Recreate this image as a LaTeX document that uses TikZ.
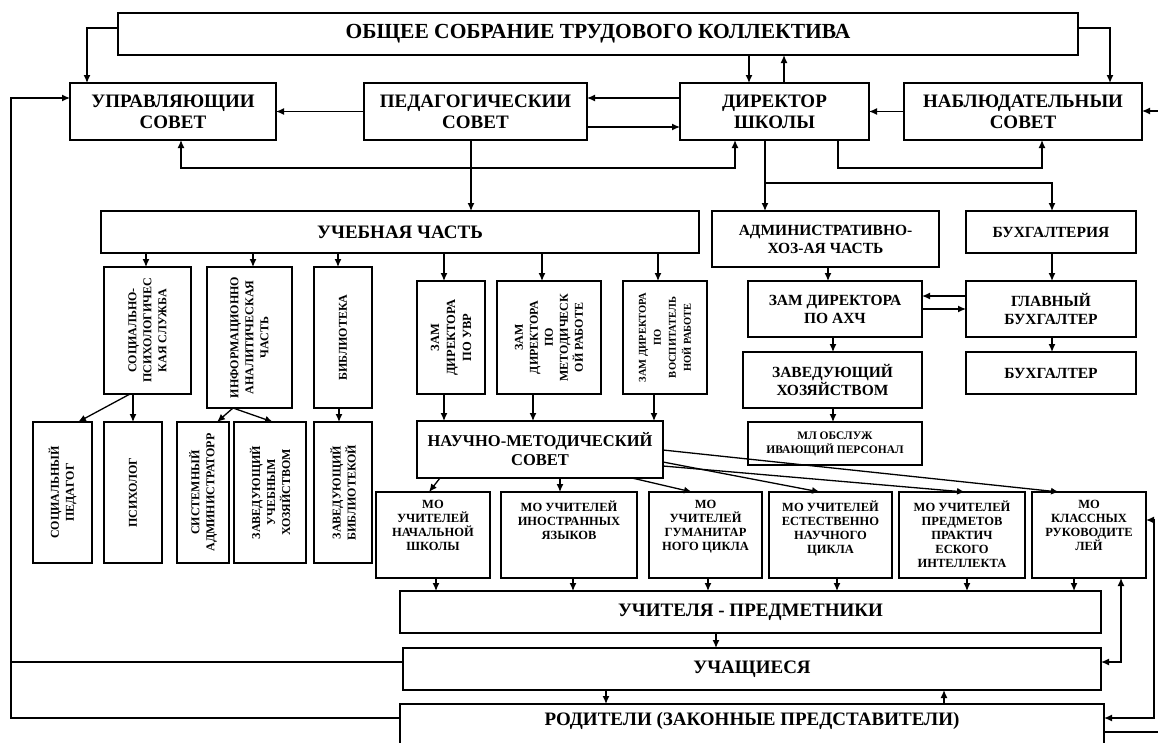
\documentclass[tikz,border=0pt]{standalone}
\usepackage{fontspec}
\setmainfont{Liberation Serif}
\usetikzlibrary{arrows.meta}

\begin{document}
\begin{tikzpicture}[x=1pt,y=-1pt,>={Latex[length=8pt,width=7pt]},line width=1.3pt,
        box/.style={draw,line width=1.5pt,anchor=north west,inner sep=1pt,
            outer sep=0pt,align=center,font=\bfseries\fontsize{19}{21}\selectfont},
        ttl/.style={font=\bfseries\fontsize{21.5}{23}\selectfont},
        mid/.style={font=\bfseries\fontsize{15.5}{18}\selectfont},
        motext/.style={anchor=north,align=center,inner sep=0pt,
            font=\bfseries\fontsize{12.5}{14}\selectfont},
        vtext/.style={rotate=90,align=center,inner sep=0pt,
            font=\bfseries\fontsize{12}{15}\selectfont}]

\useasboundingbox[fill=white] (0,0) rectangle (1158,742);

% top row
\node[box,ttl,minimum width=960,minimum height=42] (obs) at (118,13) {ОБЩЕЕ СОБРАНИЕ ТРУДОВОГО КОЛЛЕКТИВА};
\node[box,minimum width=206,minimum height=57] (upr) at (70,83) {УПРАВЛЯЮЩИИ\\СОВЕТ};
\node[box,minimum width=223,minimum height=57] (ped) at (364,83) {ПЕДАГОГИЧЕСКИИ\\СОВЕТ};
\node[box,minimum width=189,minimum height=57] (dir) at (680,83) {ДИРЕКТОР\\ШКОЛЫ};
\node[box,minimum width=238,minimum height=57] (nab) at (904,83) {НАБЛЮДАТЕЛЬНЫИ\\СОВЕТ};

% second level
\node[box,minimum width=598,minimum height=42] (ucheb) at (101,211) {УЧЕБНАЯ ЧАСТЬ};
\node[box,mid,minimum width=227,minimum height=56] (adm) at (712,211) {АДМИНИСТРАТИВНО-\\ХОЗ-АЯ ЧАСТЬ};
\node[box,mid,minimum width=170,minimum height=42] (buh) at (966,211) {БУХГАЛТЕРИЯ};

% vertical boxes
\node[box,minimum width=87,minimum height=127] (soc) at (104,267) {};
\node[box,minimum width=85,minimum height=141] (inf) at (207,267) {};
\node[box,minimum width=58,minimum height=141] (bibl) at (314,267) {};
\node[box,minimum width=68,minimum height=113] (zuvr) at (417,281) {};
\node[box,minimum width=104,minimum height=113] (zmet) at (497,281) {};
\node[box,minimum width=84,minimum height=113] (zvos) at (623,281) {};
\node[box,minimum width=59,minimum height=141] (socped) at (33,422) {};
\node[box,minimum width=58,minimum height=141] (psih) at (104,422) {};
\node[box,minimum width=52,minimum height=141] (sysad) at (177,422) {};
\node[box,minimum width=72,minimum height=141] (zavuch) at (234,422) {};
\node[box,minimum width=58,minimum height=141] (zavbib) at (314,422) {};

\node[vtext] (soc-t) at (soc.center) {СОЦИАЛЬНО-\\ПСИХОЛОГИЧЕС\\КАЯ СЛУЖБА};
\node[vtext] (inf-t) at (inf.center) {ИНФОРМАЦИОННО\\АНАЛИТИЧЕСКАЯ\\ЧАСТЬ};
\node[vtext] (bibl-t) at (bibl.center) {БИБЛИОТЕКА};
\node[vtext,font=\bfseries\fontsize{12.5}{16}\selectfont] (zuvr-t) at (zuvr.center) {ЗАМ\\ДИРЕКТОРА\\ПО УВР};
\node[vtext] (zmet-t) at (zmet.center) {ЗАМ\\ДИРЕКТОРА\\ПО\\МЕТОДИЧЕСК\\ОЙ РАБОТЕ};
\node[vtext,font=\bfseries\fontsize{10.5}{15}\selectfont] (zvos-t) at (zvos.center) {ЗАМ ДИРЕКТОРА\\ПО\\ВОСПИТАТЕЛЬ\\НОЙ РАБОТЕ};
\node[vtext] (socped-t) at (socped.center) {СОЦИАЛЬНЫЙ\\ПЕДАГОГ};
\node[vtext] (psih-t) at (psih.center) {ПСИХОЛОГ};
\node[vtext] (sysad-t) at (sysad.center) {СИСТЕМНЫЙ\\АДМИНИСТРАТОРР};
\node[vtext] (zavuch-t) at (zavuch.center) {ЗАВЕДУЮЩИЙ\\УЧЕБНЫМ\\ХОЗЯЙСТВОМ};
\node[vtext] (zavbib-t) at (zavbib.center) {ЗАВЕДУЮЩИЙ\\БИБЛИОТЕКОЙ};

% administrative side
\node[box,mid,minimum width=174,minimum height=56] (zahch) at (748,281) {ЗАМ ДИРЕКТОРА\\ПО АХЧ};
\node[box,mid,minimum width=170,minimum height=56] (glbuh) at (966,281) {ГЛАВНЫЙ\\БУХГАЛТЕР};
\node[box,mid,minimum width=179,minimum height=56] (zavhoz) at (743,352) {ЗАВЕДУЮЩИЙ\\ХОЗЯЙСТВОМ};
\node[box,mid,minimum width=170,minimum height=42] (buhg) at (966,352) {БУХГАЛТЕР};
\node[box,font=\bfseries\fontsize{11.5}{14}\selectfont,minimum width=174,minimum height=43] (mlop) at (748,422) {МЛ ОБСЛУЖ\\ИВАЮЩИЙ ПЕРСОНАЛ};

% methodical council and MO
\node[box,font=\bfseries\fontsize{16.5}{19}\selectfont,minimum width=246,minimum height=57] (nms) at (417,421) {НАУЧНО-МЕТОДИЧЕСКИЙ\\СОВЕТ};
\node[box,minimum width=114,minimum height=86] (mon) at (376,492) {};
\node[box,minimum width=136,minimum height=86] (moin) at (501,492) {};
\node[box,minimum width=113,minimum height=86] (mogum) at (649,492) {};
\node[box,minimum width=123,minimum height=86] (moest) at (769,492) {};
\node[box,minimum width=126,minimum height=86] (mopr) at (899,492) {};
\node[box,minimum width=114,minimum height=86] (mokl) at (1032,492) {};

\node[motext] (mon-t) at ([yshift=-8pt]mon.north) {МО\\УЧИТЕЛЕЙ\\НАЧАЛЬНОЙ\\ШКОЛЫ};
\node[motext] (moin-t) at ([yshift=-8pt]moin.north) {МО УЧИТЕЛЕЙ\\ИНОСТРАННЫХ\\ЯЗЫКОВ};
\node[motext] (mogum-t) at ([yshift=-8pt]mogum.north) {МО\\УЧИТЕЛЕЙ\\ГУМАНИТАР\\НОГО ЦИКЛА};
\node[motext] (moest-t) at ([yshift=-8pt]moest.north) {МО УЧИТЕЛЕЙ\\ЕСТЕСТВЕННО\\НАУЧНОГО\\ЦИКЛА};
\node[motext] (mopr-t) at ([yshift=-8pt]mopr.north) {МО УЧИТЕЛЕЙ\\ПРЕДМЕТОВ\\ПРАКТИЧ\\ЕСКОГО\\ИНТЕЛЛЕКТА};
\node[motext] (mokl-t) at ([yshift=-8pt]mokl.north) {МО\\КЛАССНЫХ\\РУКОВОДИТЕ\\ЛЕЙ};

% bottom rows
\node[box,minimum width=701,minimum height=42] (uchit) at (400,591) {УЧИТЕЛЯ - ПРЕДМЕТНИКИ};
\node[box,minimum width=698,minimum height=42] (uchash) at (403,648) {УЧАЩИЕСЯ};
\node[box,minimum width=704,minimum height=40,text depth=10pt] (rod) at (400,704) {РОДИТЕЛИ (ЗАКОННЫЕ ПРЕДСТАВИТЕЛИ)};

\coordinate (rin) at (1158,111);
\coordinate (rout) at (1158,732);

% connectors, top
\draw[->] (obs.west |- 0,28) -| (87,0 |- upr.north);
\draw[->] (749,0 |- obs.south) -- (749,0 |- dir.north);
\draw[->] (784,0 |- dir.north) -- (784,0 |- obs.south);
\draw[->] (obs.east |- 0,28) -| (1110,0 |- nab.north);
\draw[->] (ped.west) -- (upr.east);
\draw[->] (dir.west |- 0,98) -- (ped.east |- 0,98);
\draw[->] (ped.east |- 0,127) -- (dir.west |- 0,127);
\draw[->] (nab.west) -- (dir.east);
\draw[->] (rin) -- (nab.east |- rin);
\draw[<->] (181,0 |- upr.south) |- (735,168) -- (735,0 |- dir.south);
\draw[->] (838,0 |- dir.south) |- (1042,168) -- (1042,0 |- nab.south);
\draw[->] (471,0 |- ped.south) -- (471,0 |- ucheb.north);
\draw[->] (765,0 |- dir.south) -- (765,0 |- adm.north);
\draw[->] (765,183) -| (1052,0 |- buh.north);

% feedback line on the left
\draw[->] (rod.west |- 0,718) -| (11,98) -- (upr.west |- 0,98);
\draw (uchash.west |- 0,662) -- (11,662);

% learning part
\foreach \x/\n in {146/soc,253/inf,338/bibl,444/zuvr,542/zmet,658/zvos}
    \draw[->] (\x,0 |- ucheb.south) -- (\x,0 |- \n.north);
\draw[->] (130,0 |- soc.south) -- (78,0 |- socped.north);
\draw[->] (133,0 |- soc.south) -- (133,0 |- psih.north);
\draw[->] (233,0 |- inf.south) -- (217,0 |- sysad.north);
\draw[->] (233,0 |- inf.south) -- (273,0 |- zavuch.north);
\draw[->] (339,0 |- bibl.south) -- (339,0 |- zavbib.north);
\foreach \x/\n in {444/zuvr,533/zmet,654/zvos}
    \draw[->] (\x,0 |- \n.south) -- (\x,0 |- nms.north);

% administrative part
\draw[->] (828,0 |- adm.south) -- (828,0 |- zahch.north);
\draw[->] (833,0 |- zahch.south) -- (833,0 |- zavhoz.north);
\draw[->] (833,0 |- zavhoz.south) -- (833,0 |- mlop.north);
\draw[->] (1052,0 |- buh.south) -- (1052,0 |- glbuh.north);
\draw[->] (1052,0 |- glbuh.south) -- (1052,0 |- buhg.north);
\draw[->] (glbuh.west |- 0,296) -- (zahch.east |- 0,296);
\draw[->] (zahch.east |- 0,309) -- (glbuh.west |- 0,309);

% MO
\draw[->] (440,0 |- nms.south) -- (429,0 |- mon.north);
\draw[->] (560,0 |- nms.south) -- (560,0 |- moin.north);
\draw[->] (632,0 |- nms.south) -- (692,0 |- mogum.north);
\draw[->] (nms.east |- 0,462) -- (820,0 |- moest.north);
\draw[->] (nms.east |- 0,466) -- (965,0 |- mopr.north);
\draw[->] (nms.east |- 0,450) -- (1059,0 |- mokl.north);
\foreach \x/\n in {436/mon,573/moin,708/mogum,837/moest,967/mopr,1074/mokl}
    \draw[->] (\x,0 |- \n.south) -- (\x,0 |- uchit.north);

% bottom
\draw[->] (716,0 |- uchit.south) -- (716,0 |- uchash.north);
\draw[->] (606,0 |- uchash.south) -- (606,0 |- rod.north);
\draw[->] (944,0 |- rod.north) -- (944,0 |- uchash.south);
\draw[<->] (uchash.east |- 0,662) -| (1121,0 |- mokl.south);
\draw[<->] (rod.east |- 0,718) -| (1154,520) -- (mokl.east |- 0,520);
\draw (rod.east |- rout) -- (rout);
\end{tikzpicture}
\end{document}
